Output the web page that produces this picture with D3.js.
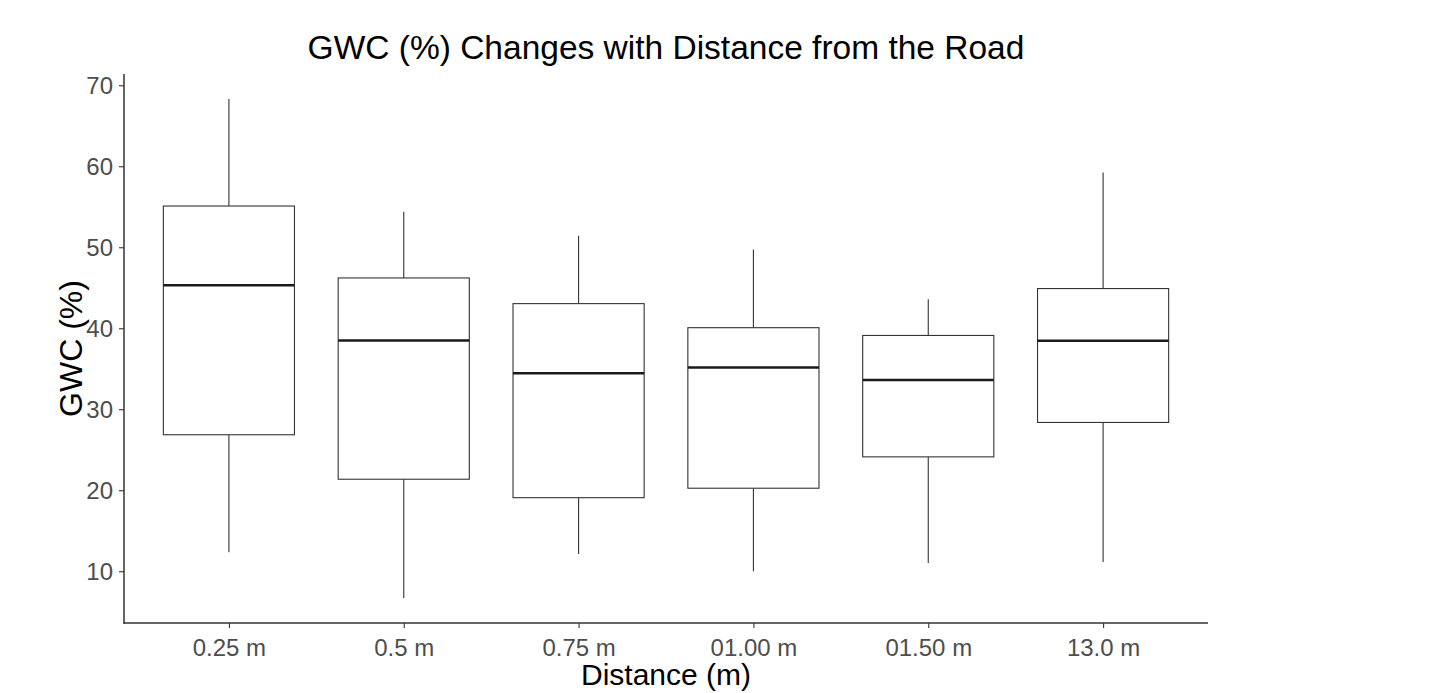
<!DOCTYPE html>
<html>
<head>
<meta charset="utf-8">
<script src="https://cdn.jsdelivr.net/npm/d3@7"></script>
<style>
  html, body { margin: 0; padding: 0; background: #ffffff; }
  svg { display: block; }
  text { font-family: "Liberation Sans", Arial, sans-serif; }
</style>
</head>
<body>
<svg id="chart" width="1450" height="693"></svg>
<script>
// Distance categories and box-plot summary statistics of GWC (%)
const categories  = ["0.25 m", "0.5 m", "0.75 m", "01.00 m", "01.50 m", "13.0 m"];
const whiskerLow  = [12.35, 6.69, 12.14, 10.0, 11.03, 11.15];
const q1          = [26.85, 21.36, 19.08, 20.25, 24.12, 28.37];
const median      = [45.31, 38.49, 34.44, 35.15, 33.62, 38.46];
const q3          = [55.09, 46.21, 43.04, 40.07, 39.11, 44.90];
const whiskerHigh = [68.31, 54.39, 51.41, 49.73, 43.57, 59.22];
const yTicks      = [10, 20, 30, 40, 50, 60, 70];

const titleText = "GWC (%) Changes with Distance from the Road";
const xTitle = "Distance (m)";
const yTitle = "GWC (%)";

const boxes = categories.map((c, i) => ({
  cat: c, lo: whiskerLow[i], q1: q1[i], med: median[i], q3: q3[i], hi: whiskerHigh[i]
}));

const panel = { left: 124, right: 1208, top: 74, bottom: 623 };
const svg = d3.select("#chart");

const x = d3.scalePoint()
  .domain(categories)
  .range([panel.left, panel.right])
  .padding(0.6);

// Continuous axis padded by 5% of the data range on each side
const lo = d3.min(whiskerLow), hi = d3.max(whiskerHigh);
const pad = (hi - lo) * 0.05;
const y = d3.scaleLinear()
  .domain([lo - pad, hi + pad])
  .range([panel.bottom, panel.top]);

const boxW = x.step() * 0.75;
const ink = "#333333";

// Boxes and whiskers
const g = svg.append("g");
const b = g.selectAll("g.box").data(boxes).join("g").attr("class", "box");

b.append("line")
  .attr("x1", d => x(d.cat)).attr("x2", d => x(d.cat))
  .attr("y1", d => y(d.q3)).attr("y2", d => y(d.hi))
  .attr("stroke", ink).attr("stroke-width", 1.1);
b.append("line")
  .attr("x1", d => x(d.cat)).attr("x2", d => x(d.cat))
  .attr("y1", d => y(d.q1)).attr("y2", d => y(d.lo))
  .attr("stroke", ink).attr("stroke-width", 1.1);
b.append("rect")
  .attr("x", d => x(d.cat) - boxW / 2)
  .attr("width", boxW)
  .attr("y", d => y(d.q3))
  .attr("height", d => y(d.q1) - y(d.q3))
  .attr("fill", "#ffffff")
  .attr("stroke", ink).attr("stroke-width", 1.1);
b.append("line")
  .attr("x1", d => x(d.cat) - boxW / 2).attr("x2", d => x(d.cat) + boxW / 2)
  .attr("y1", d => y(d.med)).attr("y2", d => y(d.med))
  .attr("stroke", "#1a1a1a").attr("stroke-width", 2.4);

// Axes
const yAxis = svg.append("g")
  .attr("transform", `translate(${panel.left},0)`)
  .call(d3.axisLeft(y).tickValues(yTicks).tickSize(5).tickPadding(6).tickSizeOuter(0));
const xAxis = svg.append("g")
  .attr("transform", `translate(0,${panel.bottom})`)
  .call(d3.axisBottom(x).tickSize(5).tickPadding(5).tickSizeOuter(0));

[xAxis, yAxis].forEach(ax => {
  ax.select(".domain").remove();
  ax.selectAll(".tick line").attr("stroke", ink).attr("stroke-width", 1.1);
  ax.selectAll(".tick text")
    .attr("fill", "#4d4d4d")
    .style("font-size", "24px");
});
xAxis.selectAll(".tick text").attr("dy", "0.95em");
yAxis.selectAll(".tick text").attr("dy", "0.36em");

// Axis lines
svg.append("line")
  .attr("x1", panel.left).attr("x2", panel.left)
  .attr("y1", panel.top).attr("y2", panel.bottom + 0.75)
  .attr("stroke", ink).attr("stroke-width", 1.5);
svg.append("line")
  .attr("x1", panel.left - 0.75).attr("x2", panel.right)
  .attr("y1", panel.bottom).attr("y2", panel.bottom)
  .attr("stroke", ink).attr("stroke-width", 1.5);

// Titles
const cx = (panel.left + panel.right) / 2;
svg.append("text")
  .attr("x", cx).attr("y", 59)
  .attr("text-anchor", "middle")
  .style("font-size", "33.5px")
  .attr("fill", "#000")
  .text(titleText);

svg.append("text")
  .attr("x", cx).attr("y", 685)
  .attr("text-anchor", "middle")
  .style("font-size", "30px")
  .attr("fill", "#000")
  .text(xTitle);

svg.append("text")
  .attr("transform", `translate(82,${(panel.top + panel.bottom) / 2}) rotate(-90)`)
  .attr("text-anchor", "middle")
  .style("font-size", "32px")
  .attr("fill", "#000")
  .text(yTitle);
</script>
</body>
</html>
